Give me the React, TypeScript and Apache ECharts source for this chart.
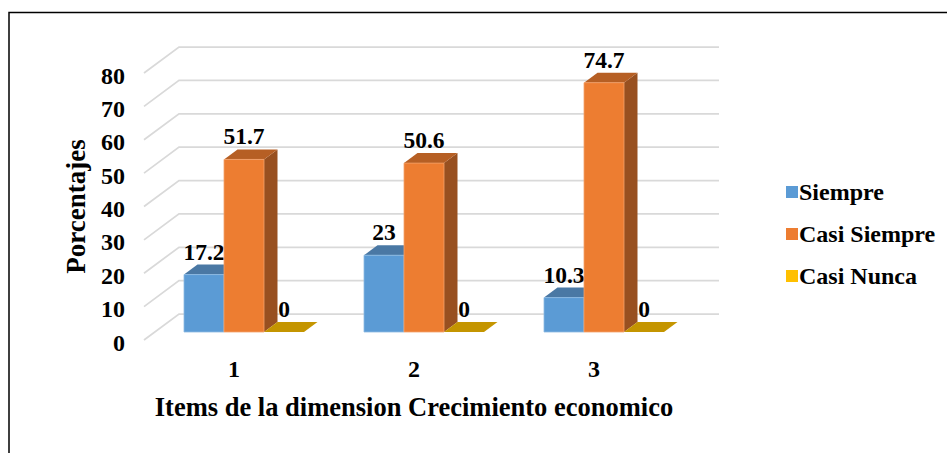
import React, { useEffect, useRef } from "react";
import * as echarts from "echarts";

const categories = ["1", "2", "3"];
const yTicks = [0, 10, 20, 30, 40, 50, 60, 70, 80];
const siempre = [17.2, 23, 10.3];
const casiSiempre = [51.7, 50.6, 74.7];
const casiNunca = [0, 0, 0];
const seriesNames = ["Siempre", "Casi Siempre", "Casi Nunca"];
const xTitle = "Items de la dimension Crecimiento economico";
const yTitle = "Porcentajes";

const FONT = '"Liberation Serif", "Times New Roman", serif';
const WALL_DX = 35, WALL_DY = -26;
const BAR_W = 40, DEPTH_DX = 13.5, DEPTH_DY = -10;
const FLOOR_DX = 10, FLOOR_DY = -8;

const palette = [
  { front: "#5B9BD5", top: "#4A78A4", side: "#3F6C96", edge: "#8DBAE2" },
  { front: "#ED7D31", top: "#B65F24", side: "#985020", edge: "#F4A26C" },
  { front: "#FFC000", top: "#C49500", side: "#A87F00", edge: "#E8C040" },
];

function barSeries(name: string, values: number[], idx: number) {
  const c = palette[idx];
  return {
    type: "custom",
    name,
    z: 3 + idx,
    data: values.map((v, i) => [i, v]),
    encode: { x: 0, y: 1 },
    renderItem: (_: any, api: any) => {
      const v = api.value(1);
      const [cx, vy] = api.coord([api.value(0), v]);
      const [, y0] = api.coord([api.value(0), 0]);
      const left = cx + FLOOR_DX - (BAR_W * 3) / 2 + idx * BAR_W;
      const right = left + BAR_W;
      const top = vy + FLOOR_DY;
      const base = y0 + FLOOR_DY;
      const children: any[] = [];
      if (v > 0) {
        children.push({
          type: "polygon",
          shape: { points: [[right, top], [right + DEPTH_DX, top + DEPTH_DY], [right + DEPTH_DX, base + DEPTH_DY], [right, base]] },
          style: { fill: c.side },
        });
      }
      children.push({
        type: "polygon",
        shape: { points: [[left, top], [left + DEPTH_DX, top + DEPTH_DY], [right + DEPTH_DX, top + DEPTH_DY], [right, top]] },
        style: { fill: c.top },
      });
      if (v > 0) {
        children.push({
          type: "rect",
          shape: { x: left, y: top, width: BAR_W, height: base - top },
          style: { fill: c.front, stroke: c.edge, lineWidth: 0.8 },
        });
      }
      children.push({
        type: "text",
        x: left + BAR_W / 2,
        y: top - 23,
        style: {
          text: String(v),
          fill: "#000",
          font: `bold 23.5px ${FONT}`,
          align: "center",
          verticalAlign: "middle",
        },
      });
      return { type: "group", children };
    },
  };
}

const gridSeries = {
  type: "custom",
  name: "grid",
  z: 1,
  silent: true,
  data: yTicks.map((t) => [0, t]),
  encode: { x: 0, y: 1 },
  renderItem: (params: any, api: any) => {
    const [, y] = api.coord([0, api.value(1)]);
    const x0 = params.coordSys.x;
    const x1 = x0 + params.coordSys.width;
    return {
      type: "polyline",
      shape: { points: [[x0, y], [x0 + WALL_DX, y + WALL_DY], [x1 + WALL_DX, y + WALL_DY]] },
      style: { fill: "none", stroke: "#D9D9D9", lineWidth: 1.75 },
    };
  },
};

export default function App() {
  const ref = useRef<HTMLDivElement>(null);
  useEffect(() => {
    const chart = echarts.init(ref.current!, null, { renderer: "svg" });
    chart.setOption({
      animation: false,
      backgroundColor: "#fff",
      textStyle: { fontFamily: FONT },
      grid: { left: 144, top: 73, width: 540, height: 267 },
      xAxis: {
        type: "category",
        data: categories,
        axisLine: { show: false },
        axisTick: { show: false },
        axisLabel: { color: "#000", fontFamily: FONT, fontWeight: "bold", fontSize: 24, margin: 17 },
        name: xTitle,
        nameLocation: "middle",
        nameGap: 53,
        nameTextStyle: { color: "#000", fontFamily: FONT, fontWeight: "bold", fontSize: 26.5 },
      },
      yAxis: {
        type: "value",
        min: 0,
        max: 80,
        interval: 10,
        splitLine: { show: false },
        axisLine: { show: false },
        axisTick: { show: false },
        axisLabel: { color: "#000", fontFamily: FONT, fontWeight: "bold", fontSize: 24, margin: 19, verticalAlign: "top", lineHeight: 5 },
        name: yTitle,
        nameLocation: "middle",
        nameGap: 55,
        nameTextStyle: { color: "#000", fontFamily: FONT, fontWeight: "bold", fontSize: 27 },
      },
      legend: {
        orient: "vertical",
        left: 781,
        top: 175,
        itemWidth: 12,
        itemHeight: 12,
        itemGap: 18,
        textStyle: { color: "#000", fontFamily: FONT, fontWeight: "bold", fontSize: 24, padding: [0, 0, 0, -4] },
        data: seriesNames.map((name, i) => ({ name, icon: "rect", itemStyle: { color: palette[i].front } })),
      },
      graphic: [
        {
          type: "polyline",
          silent: true,
          shape: { points: [[9, 453], [9, 12.5], [947, 12.5]] },
          style: { fill: "none", stroke: "#000", lineWidth: 1.5 },
        },
      ],
      series: [
        gridSeries,
        barSeries(seriesNames[0], siempre, 0),
        barSeries(seriesNames[1], casiSiempre, 1),
        barSeries(seriesNames[2], casiNunca, 2),
      ],
    });
    return () => chart.dispose();
  }, []);
  return <div ref={ref} style={{ position: "fixed", left: 0, top: 0, width: 947, height: 453 }} />;
}
